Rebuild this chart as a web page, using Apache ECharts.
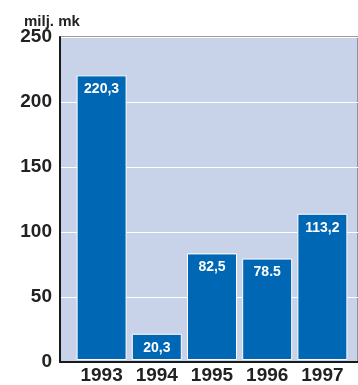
<!DOCTYPE html>
<html>
<head>
<meta charset="utf-8">
<script src="https://cdn.jsdelivr.net/npm/echarts@6/dist/echarts.min.js"></script>
<style>
  html, body { margin: 0; padding: 0; background: #fff; }
  #chart { width: 358px; height: 385px; }
</style>
</head>
<body>
<div id="chart"></div>
<script>
// Yearly amounts, million marks
const years = ['1993', '1994', '1995', '1996', '1997'];
const amounts = [220.3, 20.3, 82.5, 78.5, 113.2];
const amountLabels = ['220,3', '20,3', '82,5', '78.5', '113,2'];
const unitTitle = 'milj. mk';

const FONT = '"Liberation Sans", Arial, sans-serif';
const TEXT = '#222222';

const chart = echarts.init(document.getElementById('chart'), null, { renderer: 'canvas' });

chart.setOption({
  animation: false,
  backgroundColor: '#ffffff',
  title: {
    text: unitTitle,
    left: 19,
    top: 9,
    textStyle: { fontFamily: FONT, fontSize: 15, fontWeight: 'bold', color: TEXT }
  },
  grid: [
    // panel with background, gridlines and value axis
    {
      left: 60, right: -12, top: 37, bottom: 23,
      show: true,
      backgroundColor: '#c8d3ea',
      borderColor: '#7d7d7d',
      borderWidth: 1.5
    },
    // bars
    { left: 74, right: 8, top: 37, bottom: 23 }
  ],
  xAxis: [
    {
      gridIndex: 0, type: 'value', min: 0, max: 1,
      axisLine: { show: true, onZero: false, lineStyle: { color: '#1a1a1a', width: 2 } },
      axisTick: { show: false }, axisLabel: { show: false }, splitLine: { show: false }
    },
    {
      gridIndex: 1, type: 'category', data: years,
      axisLine: { show: false }, axisTick: { show: false },
      axisLabel: {
        margin: 6,
        fontFamily: FONT, fontSize: 19, fontWeight: 'bold', color: TEXT
      }
    }
  ],
  yAxis: [
    {
      gridIndex: 0, type: 'value', min: 0, max: 250, interval: 50,
      axisLine: { show: true, lineStyle: { color: '#1a1a1a', width: 2 } },
      axisTick: { show: false },
      axisLabel: {
        margin: 8,
        fontFamily: FONT, fontSize: 19, fontWeight: 'bold', color: TEXT
      },
      splitLine: { show: true, lineStyle: { color: '#ffffff', width: 1 } }
    },
    {
      gridIndex: 1, type: 'value', min: 0, max: 250, show: false,
      splitLine: { show: false }
    }
  ],
  series: [
    {
      type: 'bar',
      xAxisIndex: 1, yAxisIndex: 1,
      data: amounts,
      barWidth: 50,
      itemStyle: { color: '#0067b4', borderColor: '#ffffff', borderWidth: 1 },
      label: {
        show: true,
        position: 'insideTop',
        distance: 7,
        formatter: p => amountLabels[p.dataIndex],
        fontFamily: FONT, fontSize: 14, fontWeight: 'bold', color: '#ffffff'
      }
    }
  ]
});
</script>
</body>
</html>
